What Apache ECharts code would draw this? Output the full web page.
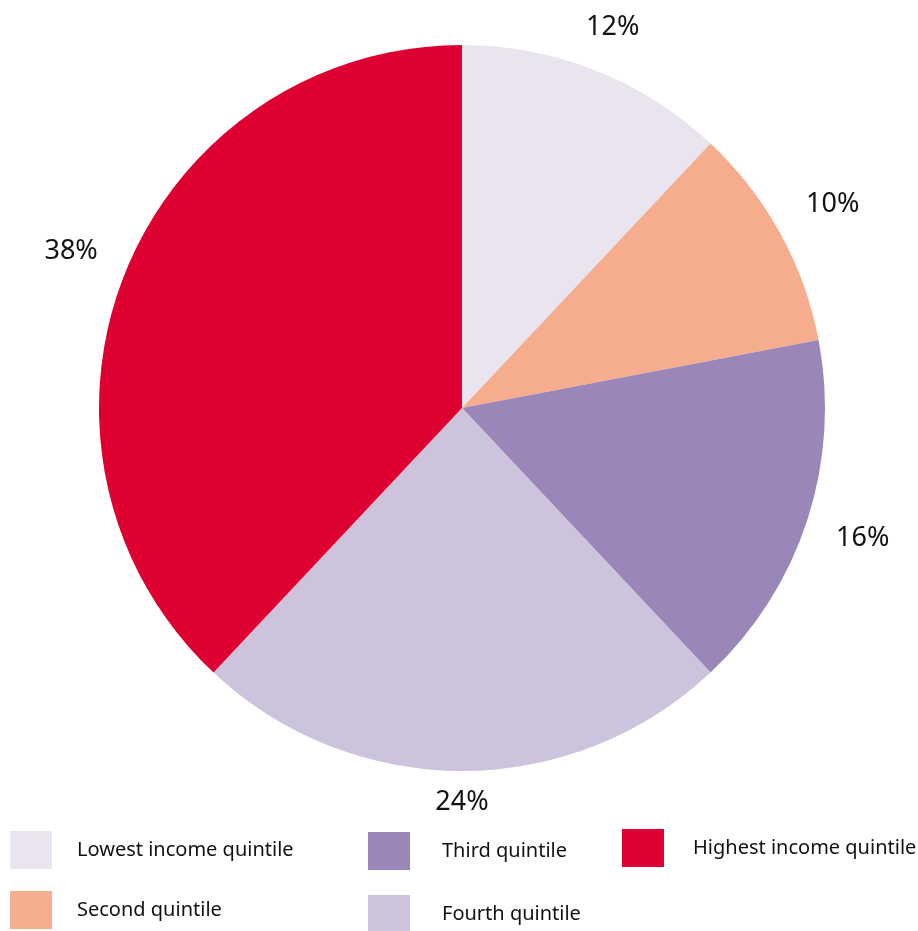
<!DOCTYPE html>
<html><head><meta charset="utf-8">
<script src="https://cdn.jsdelivr.net/npm/echarts@6/dist/echarts.min.js"></script>
<style>html,body{margin:0;padding:0;background:#fff}#c{width:918px;height:931px}</style>
</head><body><div id="c"></div>
<script>
const categories = ['Lowest income quintile','Second quintile','Third quintile','Fourth quintile','Highest income quintile'];
const values = [12, 10, 16, 24, 38];
const labels = ['12%','10%','16%','24%','38%'];
const colors = ['#EAE4F0','#F5AD8E','#9B86B9','#CDC3DD','#DE0030'];

const font = 'Noto Sans';
const labelOffsets = [[-2,5],[7,-4],[6,2],[0,-21],[-5,-4]];
const data = categories.map((n,i)=>({name:n, value:values[i], itemStyle:{color:colors[i]}}));
const ghost = categories.map((n,i)=>({name:n, value:values[i],
  label:{formatter:labels[i], offset: labelOffsets[i]}}));

const legendPos = [
  {left:10, top:831, pad:20},
  {left:10, top:891, pad:20},
  {left:368, top:832, pad:27},
  {left:368, top:895, pad:27},
  {left:622, top:829, pad:24}
];
const legends = categories.map((n,i)=>({
  data:[n], left:legendPos[i].left, top:legendPos[i].top, padding:0,
  itemWidth:42, itemHeight:38, icon:'rect', selectedMode:false,
  textStyle:{fontFamily:font, fontSize:20, color:'#111', padding:[0,0,0,legendPos[i].pad]}
}));

const chart = echarts.init(document.getElementById('c'));
chart.setOption({
  animation:false,
  legend: legends,
  series:[
    {type:'pie', center:[462,408], radius:[0,363], startAngle:90, clockwise:true,
     data:data, label:{show:false}, labelLine:{show:false}, silent:true},
    {type:'pie', center:[462,408], radius:[400,424], startAngle:90, clockwise:true,
     data:ghost, itemStyle:{color:'rgba(0,0,0,0)'}, silent:true,
     label:{show:true, position:'inside', fontFamily:font, fontSize:27, color:'#111'},
     labelLine:{show:false}, legendHoverLink:false}
  ]
});
</script></body></html>
